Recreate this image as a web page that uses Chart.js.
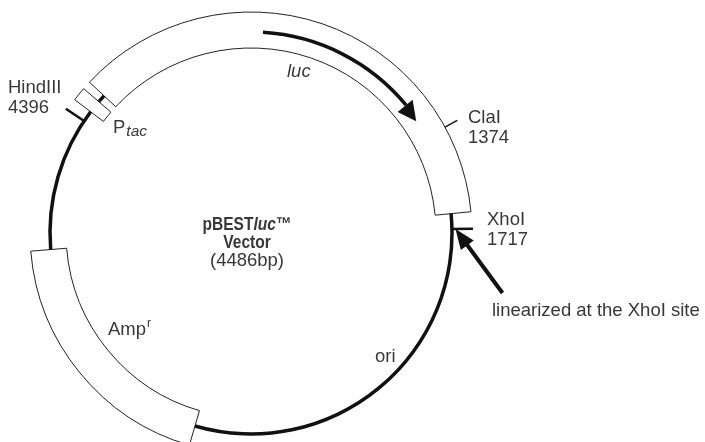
<!DOCTYPE html>
<html lang="en">
<head>
<meta charset="UTF-8">
<title>pBESTluc Vector</title>
<script src="https://cdn.jsdelivr.net/npm/chart.js"></script>
<style>
    html, body { margin: 0; padding: 0; background: #fff; overflow: hidden; }
    #wrap { position: relative; width: 705px; height: 442px; }
</style>
</head>
<body>
<div id="wrap"><canvas id="mapChart" width="705" height="442"></canvas></div>
<script>
// plasmid map data (bp)
const plasmidSize = 4486;
const featureNames = ['Ptac', 'luc', 'Ampr'];
const featureStarts = [4436, 24, 3054];
const featureEnds = [4482, 1662, 3915];
// thick backbone between the boxes
const backboneStarts = [4482, 1662, 3915];
const backboneEnds = [24, 3054, 4436];
// direction arrow of luc
const lucArrowStart = 652;
const lucArrowEnd = 1306;
// restriction sites
const siteNames = ['HindIII', 'ClaI', 'XhoI'];
const sitePositions = [4396, 1374, 1717];
const linearizedSite = 'XhoI';

// drawing settings
const mapRotation = -48.9;
const boxOuter = 221, boxInner = 185;
const lineOuter = 202.75, lineInner = 199.25;
const headLen = 19;
const textColor = '#383838';
const labelFont = '"Liberation Sans", Arial, sans-serif';
const titleFont = '"Liberation Sans", Arial, sans-serif';
const titleSqueeze = 0.84;

// split the circle into consecutive segments, marking the given intervals
function buildRing(intervals) {
    const parts = [];
    intervals.forEach(iv => {
        if (iv.start <= iv.end) parts.push(iv);
        else {
            parts.push({ start: iv.start, end: plasmidSize, on: true });
            parts.push({ start: 0, end: iv.end, on: true });
        }
    });
    parts.sort((a, b) => a.start - b.start);
    const seg = [];
    let pos = 0;
    parts.forEach(p => {
        if (p.start > pos) seg.push({ size: p.start - pos, on: false });
        seg.push({ size: p.end - p.start, on: true });
        pos = p.end;
    });
    if (pos < plasmidSize) seg.push({ size: plasmidSize - pos, on: false });
    return seg;
}

// dataset radius/cutout so that ring "index" of 2 lands between inner and outer
function ringSize(outer, inner, index) {
    const len = outer - inner;
    const r = outer + len * index;
    return { radius: r, cutout: ((1 - 2 * len / r) * 100) + '%' };
}

const headBp = headLen / 201 / (2 * Math.PI) * plasmidSize;
const lineRing = buildRing(
    backboneStarts.map((s, i) => ({ start: s, end: backboneEnds[i], on: true }))
        .concat([{ start: lucArrowStart, end: lucArrowEnd - headBp, on: true }])
);
const boxRing = buildRing(featureStarts.map((s, i) => ({ start: s, end: featureEnds[i], on: true })));

const lineSize = ringSize(lineOuter, lineInner, 0);
const boxSize = ringSize(boxOuter, boxInner, 1);

const overlay = {
    id: 'mapOverlay',
    afterDatasetsDraw(chart) {
        const ctx = chart.ctx;
        const arc = chart.getDatasetMeta(1).data[0];
        const cx = arc.x, cy = arc.y;
        const ang = bp => (mapRotation - 90 + bp / plasmidSize * 360) * Math.PI / 180;
        const pt = (bp, r) => [cx + r * Math.cos(ang(bp)), cy + r * Math.sin(ang(bp))];

        ctx.save();
        ctx.strokeStyle = '#111';
        ctx.fillStyle = '#111';
        ctx.lineCap = 'butt';

        // restriction site ticks
        const tickStyle = {
            HindIII: { r0: 201, r1: 223, w: 2.5 },
            ClaI: { r0: 221, r1: 235, w: 1.5 },
            XhoI: { r0: 201, r1: 222, w: 2.5 }
        };
        siteNames.forEach((name, i) => {
            const s = tickStyle[name];
            const a = pt(sitePositions[i], s.r0), b = pt(sitePositions[i], s.r1);
            ctx.lineWidth = s.w;
            ctx.beginPath();
            ctx.moveTo(a[0], a[1]);
            ctx.lineTo(b[0], b[1]);
            ctx.stroke();
        });

        // luc arrow head
        const tip = pt(lucArrowEnd, 199.5);
        const b1 = pt(lucArrowEnd - headBp, 190);
        const b2 = pt(lucArrowEnd - headBp, 209.5);
        ctx.beginPath();
        ctx.moveTo(tip[0], tip[1]);
        ctx.lineTo(b1[0], b1[1]);
        ctx.lineTo(b2[0], b2[1]);
        ctx.closePath();
        ctx.fill();

        // arrow pointing at the linearization site
        const site = sitePositions[siteNames.indexOf(linearizedSite)];
        const t = pt(site, 204.5);
        const tail = [t[0] + 47, t[1] + 64];
        const dx = t[0] - tail[0], dy = t[1] - tail[1];
        const len = Math.hypot(dx, dy);
        const ux = dx / len, uy = dy / len;
        const hb = [t[0] - ux * 20, t[1] - uy * 20];
        ctx.lineWidth = 4;
        ctx.beginPath();
        ctx.moveTo(tail[0], tail[1]);
        ctx.lineTo(hb[0] + ux * 2, hb[1] + uy * 2);
        ctx.stroke();
        ctx.beginPath();
        ctx.moveTo(t[0], t[1]);
        ctx.lineTo(hb[0] - uy * 8, hb[1] + ux * 8);
        ctx.lineTo(hb[0] + uy * 8, hb[1] - ux * 8);
        ctx.closePath();
        ctx.fill();

        // labels
        ctx.fillStyle = textColor;
        ctx.textBaseline = 'alphabetic';
        ctx.textAlign = 'left';
        const reg = '18.5px ' + labelFont;
        const put = (str, x, y, font) => { ctx.font = font; ctx.fillText(str, x, y); return ctx.measureText(str).width; };
        const putNarrow = (str, x, y, font) => {
            ctx.font = font;
            ctx.save();
            ctx.translate(x, y);
            ctx.scale(titleSqueeze, 1);
            ctx.fillText(str, 0, 0);
            ctx.restore();
            return ctx.measureText(str).width * titleSqueeze;
        };

        const siteLabelAt = { HindIII: [8, 93], ClaI: [468, 123], XhoI: [487, 225] };
        siteNames.forEach((name, i) => {
            const p = siteLabelAt[name];
            put(name, p[0], p[1], reg);
            put(String(sitePositions[i]), p[0], p[1] + 19.5, reg);
        });

        put('linearized at the ' + linearizedSite + ' site', 492, 316, reg);

        // feature labels
        const w = put('P', 113, 133, reg);
        put('tac', 113 + w + 1, 136, 'italic 15.5px ' + labelFont);
        put('luc', 287, 77, 'italic 18.5px ' + labelFont);
        const wa = put('Amp', 108, 335, reg);
        put('r', 108 + wa + 1, 327, '12px ' + labelFont);
        put('ori', 375, 362, reg);

        // vector name in the middle
        const fb = 'bold 18.5px ' + titleFont;
        const fbi = 'italic bold 18.5px ' + titleFont;
        ctx.font = fb;
        const w1 = ctx.measureText('pBEST').width * titleSqueeze;
        const w3 = ctx.measureText('\u2122').width * titleSqueeze;
        const wv = ctx.measureText('Vector').width * titleSqueeze;
        ctx.font = fbi;
        const w2 = ctx.measureText('luc').width * titleSqueeze;
        const x = 247 - (w1 + w2 + w3) / 2;
        putNarrow('pBEST', x, 230, fb);
        putNarrow('luc', x + w1, 230, fbi);
        putNarrow('\u2122', x + w1 + w2, 230, fb);
        putNarrow('Vector', 247 - wv / 2, 248, fb);
        ctx.textAlign = 'center';
        put('(4486bp)', 247, 265.5, reg);
        ctx.restore();
    }
};

const ctx = document.getElementById('mapChart').getContext('2d');
const mapChart = new Chart(ctx, {
    type: 'doughnut',
    data: {
        datasets: [{
            data: lineRing.map(s => s.size),
            backgroundColor: lineRing.map(s => s.on ? '#111' : 'rgba(0,0,0,0)'),
            borderWidth: 0,
            radius: lineSize.radius,
            cutout: lineSize.cutout,
            clip: false,
            order: 0
        }, {
            data: boxRing.map(s => s.size),
            backgroundColor: boxRing.map(s => s.on ? '#fff' : 'rgba(0,0,0,0)'),
            borderColor: '#222',
            borderWidth: boxRing.map(s => s.on ? 1 : 0),
            borderAlign: 'center',
            radius: boxSize.radius,
            cutout: boxSize.cutout,
            clip: false,
            order: 1
        }]
    },
    options: {
        responsive: false,
        animation: false,
        events: [],
        rotation: mapRotation,
        layout: { padding: { left: 0, right: 203, top: 24, bottom: 0 } },
        plugins: {
            legend: { display: false },
            tooltip: { enabled: false }
        }
    },
    plugins: [overlay]
});
</script>
</body>
</html>
